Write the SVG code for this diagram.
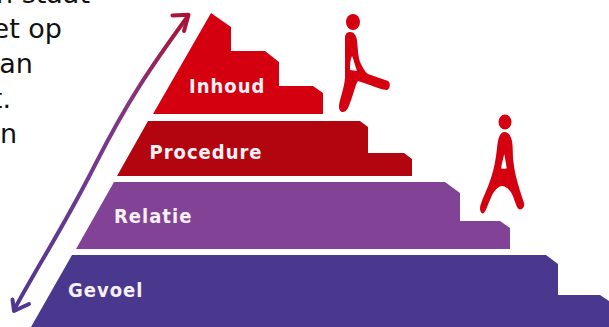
<svg xmlns="http://www.w3.org/2000/svg" width="609" height="327" viewBox="0 0 609 327">
<defs>
<linearGradient id="arrowGrad" gradientUnits="userSpaceOnUse" x1="14" y1="310" x2="189" y2="15">
<stop offset="0" stop-color="#4f3790"/>
<stop offset="0.45" stop-color="#703a90"/>
<stop offset="0.7" stop-color="#84347f"/>
<stop offset="1" stop-color="#ab1234"/>
</linearGradient>
</defs>
<style>
.lbl{font-family:"DejaVu Sans",sans-serif;font-stretch:condensed;font-weight:bold;font-size:20px;letter-spacing:1px;fill:#f6f1f6}
.body{font-family:"DejaVu Sans",sans-serif;font-size:27px;fill:#111;text-anchor:end}
.fig{fill:#d4000f;fill-rule:evenodd}
</style>
<rect width="609" height="327" fill="#fff"/>
<g id="intro-text">
<text class="body" x="90" y="3">n staat</text>
<text class="body" x="62" y="38">et op</text>
<text class="body" x="33" y="73">an</text>
<text class="body" x="11" y="108">t.</text>
<text class="body" x="17" y="143">n</text>
</g>
<g id="connectors">
<path d="M14 310C40 262 63 228 95 165S150 68 188 16" fill="none" stroke="url(#arrowGrad)" stroke-width="4" stroke-linecap="round"/>
<path d="M172.500 15.500L188.500 14.800L184 31" fill="none" stroke="url(#arrowGrad)" stroke-width="4" stroke-linecap="round" stroke-linejoin="round"/>
<path d="M12.500 299.500L14 311L29 304" fill="none" stroke="url(#arrowGrad)" stroke-width="4" stroke-linecap="round" stroke-linejoin="round"/>
</g>
<g id="node-inhoud">
<path d="M211 13L231 27V51H265L279 62V86H313L323 93V114H153Z" fill="#d4000f"/>
<text class="lbl" x="189" y="92.500">Inhoud</text>
</g>
<g id="node-procedure">
<path d="M148 121H360L368 127V153H404L412 159V176H117Z" fill="#b3050f"/>
<text class="lbl" x="149.500" y="158.500">Procedure</text>
</g>
<g id="node-relatie">
<path d="M114 182H445L460 193V221H500L510 228V249H76Z" fill="#824295"/>
<text class="lbl" x="114" y="223">Relatie</text>
</g>
<g id="node-gevoel">
<path d="M72 255H546L558 264V295H600L609 301V327H31Z" fill="#4a388e"/>
<text class="lbl" x="68" y="297">Gevoel</text>
</g>
<g id="figure-walking">
<ellipse class="fig" cx="353" cy="22" rx="7" ry="8"/>
<path class="fig" d="M350 32C354 32 356 35 357 40C358 50 358 58 361 64C363 68 365 72 368 74L388 81C391 83 390 89 387 90C382 90 370 85 358 81C355 85 353 97 348 108C345 114 339 113 339 107C339 100 344 90 345 78C345 65 345 50 345 38C345 34 347 32 350 32ZM352 56C350 60 350 65 350 70L357 71C355 66 354 60 352 56Z"/>
</g>
<g id="figure-standing">
<ellipse class="fig" cx="505" cy="122" rx="6.500" ry="7.500"/>
<path class="fig" d="M504.500 132C509 132 512 137 512.500 145C513 152 512.500 158 514 166C515 174 518 185 524 203C525 208 521 211 518 208.500C515 204 514 196 510 191C507 187 504 186 501.500 186C497 187 493 192 490 200C487 206 486 212 483 213.500C480 213 479.500 209 480.500 205C483 197 488 188 491 178C494 169 496 158 497 148C498 138 500 132 504.500 132ZM504.300 154C503 159 502 163 501 168.300C503 169 505 169 506.700 168.300C506 163 505 158 504.300 154Z"/>
</g>
</svg>
